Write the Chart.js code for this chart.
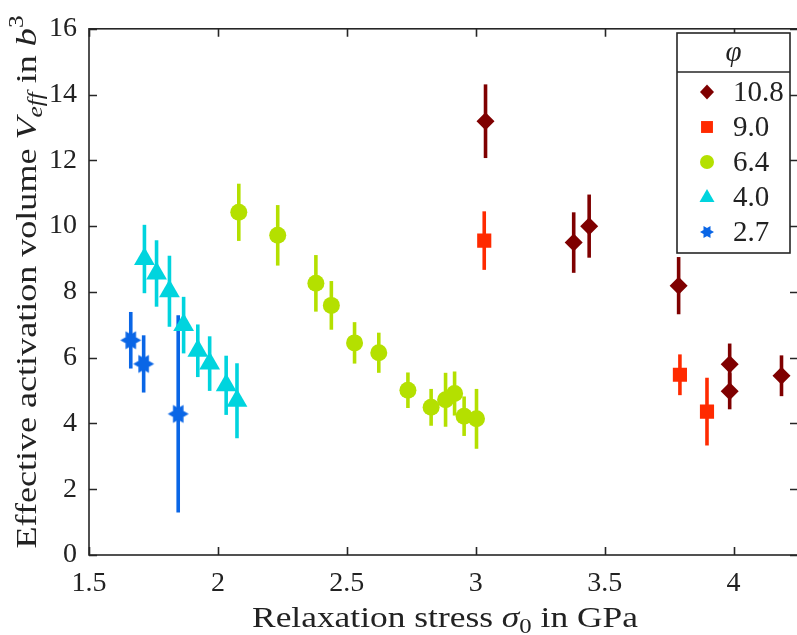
<!DOCTYPE html>
<html>
<head>
<meta charset="utf-8">
<script src="https://cdn.jsdelivr.net/npm/chart.js@4.4.1/dist/chart.umd.min.js"></script>
<style>
  html, body { margin: 0; padding: 0; background: #fff; overflow: hidden; }
  #wrap { width: 810px; height: 635px; }
</style>
</head>
<body>
<div id="wrap"><canvas id="chart" width="810" height="635"></canvas></div>
<script>
// phi values (legend)
const phiLabels = ['10.8', '9.0', '6.4', '4.0', '2.7'];

// phi = 10.8
const stress108 = [3.038, 3.380, 3.440, 3.787, 3.985, 3.985, 4.186];
const veff108   = [13.19, 9.50, 10.00, 8.19, 5.80, 4.98, 5.45];
const err108    = [1.12, 0.92, 0.96, 0.87, 0.63, 0.55, 0.62];

// phi = 9.0
const stress90 = [3.033, 3.792, 3.897];
const veff90   = [9.56, 5.48, 4.36];
const err90    = [0.89, 0.62, 1.03];

// phi = 6.4
const stress64 = [2.081, 2.232, 2.380, 2.440, 2.530, 2.624, 2.737, 2.827, 2.883, 2.918, 2.955, 3.003];
const veff64   = [10.42, 9.72, 8.26, 7.59, 6.45, 6.15, 5.01, 4.49, 4.72, 4.91, 4.22, 4.14];
const err64    = [0.87, 0.92, 0.86, 0.74, 0.63, 0.61, 0.54, 0.56, 0.82, 0.67, 0.60, 0.91];

// phi = 4.0
const stress40 = [1.715, 1.762, 1.812, 1.867, 1.922, 1.968, 2.032, 2.074];
const veff40   = [9.00, 8.56, 8.02, 6.99, 6.21, 5.82, 5.16, 4.69];
const err40    = [1.04, 1.01, 1.08, 0.86, 0.80, 0.83, 0.90, 1.14];

// phi = 2.7
const stress27 = [1.662, 1.712, 1.846];
const veff27   = [6.53, 5.81, 4.29];
const err27    = [0.86, 0.87, 3.00];

const xTicks = [1.5, 2, 2.5, 3, 3.5, 4];
const yTicks = [0, 2, 4, 6, 8, 10, 12, 14, 16];

const SERIF = '"Liberation Serif", "DejaVu Serif", serif';
const AXIS = '#262626';

function hexagramPath(ctx, cx, cy, r) {
  // two triangles, points left and right
  ctx.beginPath();
  for (let t = 0; t < 2; t++) {
    for (let k = 0; k < 3; k++) {
      const a = (t * 60 + k * 120) * Math.PI / 180;
      const px = cx + r * Math.cos(a), py = cy + r * Math.sin(a);
      if (k === 0) ctx.moveTo(px, py); else ctx.lineTo(px, py);
    }
    ctx.closePath();
  }
}

function makeHexagram(r, color) {
  const c = document.createElement('canvas');
  c.width = c.height = Math.ceil(2 * r + 2);
  const g = c.getContext('2d');
  g.fillStyle = color;
  hexagramPath(g, c.width / 2, c.height / 2, r);
  g.fill('nonzero');
  return c;
}

function pts(xs, ys) { return xs.map((x, i) => ({ x: x, y: ys[i] })); }

const colors = ['#7f0000', '#ff2a00', '#b4e000', '#00d4de', '#0a66e6'];

const datasets = [
  { label: phiLabels[0], data: pts(stress108, veff108), errors: err108, pointStyle: 'rectRot', pointRadius: 9, mk: 'diamond' },
  { label: phiLabels[1], data: pts(stress90, veff90), errors: err90, pointStyle: 'rect', pointRadius: 10, mk: 'square' },
  { label: phiLabels[2], data: pts(stress64, veff64), errors: err64, pointStyle: 'circle', pointRadius: 8.5, mk: 'circle' },
  { label: phiLabels[3], data: pts(stress40, veff40), errors: err40, pointStyle: 'triangle', pointRadius: 12, mk: 'triangle' },
  { label: phiLabels[4], data: pts(stress27, veff27), errors: err27, pointStyle: makeHexagram(10.5, colors[4]), pointRadius: 10, mk: 'hexagram' }
].map((d, i) => Object.assign(d, {
  backgroundColor: colors[i],
  borderColor: colors[i],
  pointBorderWidth: 0,
  pointHoverRadius: d.pointRadius,
  showLine: false
}));

// rich text, stretched to the width the reference label takes
function drawRuns(ctx, runs, cx, y, width) {
  let total = 0;
  runs.forEach(r => { ctx.font = r.font; total += ctx.measureText(r.text).width; });
  ctx.save();
  ctx.translate(cx, y);
  ctx.scale(width / total, 1);
  let x = -total / 2;
  ctx.textAlign = 'left';
  ctx.textBaseline = 'alphabetic';
  runs.forEach(r => {
    ctx.font = r.font;
    ctx.fillText(r.text, x, r.dy || 0);
    x += ctx.measureText(r.text).width;
  });
  ctx.restore();
}

const errorBars = {
  id: 'errorBars',
  beforeDatasetDraw(chart, args) {
    const ds = chart.data.datasets[args.index];
    const ctx = chart.ctx, xs = chart.scales.x, ys = chart.scales.y;
    ctx.save();
    ctx.strokeStyle = ds.borderColor;
    ctx.lineWidth = 3.6;
    ds.data.forEach((p, i) => {
      const e = ds.errors[i];
      const px = xs.getPixelForValue(p.x);
      ctx.beginPath();
      ctx.moveTo(px, ys.getPixelForValue(p.y - e));
      ctx.lineTo(px, ys.getPixelForValue(p.y + e));
      ctx.stroke();
    });
    ctx.restore();
  }
};

const frame = {
  id: 'frame',
  beforeDatasetsDraw(chart) {
    const ctx = chart.ctx, a = chart.chartArea, xs = chart.scales.x, ys = chart.scales.y;
    const tl = 8;
    ctx.save();
    ctx.strokeStyle = AXIS;
    ctx.lineWidth = 1.6;
    ctx.strokeRect(a.left, a.top, a.right - a.left, a.bottom - a.top);
    ctx.beginPath();
    xTicks.forEach(v => {
      const px = Math.round(xs.getPixelForValue(v)) + 0.5;
      ctx.moveTo(px, a.bottom); ctx.lineTo(px, a.bottom - tl);
      ctx.moveTo(px, a.top); ctx.lineTo(px, a.top + tl);
    });
    yTicks.forEach(v => {
      const py = Math.round(ys.getPixelForValue(v)) + 0.5;
      ctx.moveTo(a.left, py); ctx.lineTo(a.left + tl, py);
      ctx.moveTo(a.right, py); ctx.lineTo(a.right - tl, py);
    });
    ctx.stroke();
    ctx.restore();
  },
  afterDraw(chart) {
    const ctx = chart.ctx;
    ctx.save();
    ctx.fillStyle = '#222';
    const big = '30px ' + SERIF, bigI = 'italic 30px ' + SERIF;
    const small = '21px ' + SERIF, smallI = 'italic 21px ' + SERIF;
    drawRuns(ctx, [
      { text: 'Relaxation stress ', font: big },
      { text: 'σ', font: bigI },
      { text: '0', font: small, dy: 6 },
      { text: ' in GPa', font: big }
    ], 445, 627, 386);
    ctx.translate(36, 282);
    ctx.rotate(-Math.PI / 2);
    drawRuns(ctx, [
      { text: 'Effective activation volume ', font: big },
      { text: 'V', font: bigI },
      { text: 'eff', font: smallI, dy: 6 },
      { text: ' in ', font: big },
      { text: 'b', font: bigI },
      { text: '3', font: small, dy: -13 }
    ], 0, 0, 533);
    ctx.restore();
  }
};

function drawMarker(ctx, kind, x, y, r, color) {
  ctx.fillStyle = color;
  ctx.beginPath();
  if (kind === 'diamond') {
    ctx.moveTo(x, y - r * 1.08); ctx.lineTo(x + r, y); ctx.lineTo(x, y + r * 1.08); ctx.lineTo(x - r, y); ctx.closePath();
  } else if (kind === 'square') {
    ctx.rect(x - r * 0.85, y - r * 0.85, r * 1.7, r * 1.7);
  } else if (kind === 'circle') {
    ctx.arc(x, y, r, 0, Math.PI * 2);
  } else if (kind === 'triangle') {
    const h = r * 1.15;
    ctx.moveTo(x, y - h); ctx.lineTo(x + h * 0.93, y + h * 0.62); ctx.lineTo(x - h * 0.93, y + h * 0.62); ctx.closePath();
  } else {
    hexagramPath(ctx, x, y, r);
  }
  ctx.fill();
}

const phiLegend = {
  id: 'phiLegend',
  afterDatasetsDraw(chart) {
    const ctx = chart.ctx;
    const L = 677, R = 790, T = 33, H = 72, B = 253;
    ctx.save();
    ctx.fillStyle = '#fff';
    ctx.fillRect(L, T, R - L, B - T);
    ctx.strokeStyle = AXIS;
    ctx.lineWidth = 1.6;
    ctx.strokeRect(L, T, R - L, B - T);
    ctx.beginPath(); ctx.moveTo(L, H); ctx.lineTo(R, H); ctx.stroke();
    ctx.fillStyle = '#222';
    ctx.font = 'italic 29px ' + SERIF;
    ctx.textAlign = 'center';
    ctx.textBaseline = 'middle';
    ctx.fillText('φ', (L + R) / 2, 53);
    const rowY = [92, 127, 162, 197, 232];
    chart.data.datasets.forEach((ds, i) => {
      drawMarker(ctx, ds.mk, 707, rowY[i], 7, ds.backgroundColor);
      ctx.fillStyle = '#222';
      ctx.font = '29px ' + SERIF;
      ctx.textAlign = 'left';
      ctx.textBaseline = 'middle';
      ctx.fillText(ds.label, 733, rowY[i] + 1);
    });
    ctx.restore();
  }
};

new Chart(document.getElementById('chart'), {
  type: 'scatter',
  data: { datasets: datasets },
  plugins: [errorBars, frame, phiLegend],
  options: {
    responsive: false,
    animation: false,
    layout: { padding: { left: 0, top: 20, right: 6, bottom: 0 } },
    plugins: { legend: { display: false }, tooltip: { enabled: false } },
    scales: {
      x: {
        type: 'linear',
        min: 1.5,
        max: 4.25,
        afterFit: s => { s.height = 80; },
        afterBuildTicks: s => { s.ticks = xTicks.map(v => ({ value: v })); },
        grid: { display: false, drawTicks: false },
        border: { display: false },
        ticks: { color: '#222', padding: 12, maxRotation: 0, autoSkip: false, font: { family: SERIF, size: 28 }, callback: v => String(v) }
      },
      y: {
        type: 'linear',
        min: 0,
        max: 16,
        afterFit: s => { s.width = 89; },
        afterBuildTicks: s => { s.ticks = yTicks.map(v => ({ value: v })); },
        grid: { display: false, drawTicks: false },
        border: { display: false },
        ticks: { color: '#222', padding: 12, autoSkip: false, font: { family: SERIF, size: 28 }, callback: v => String(v) }
      }
    }
  }
});
</script>
</body>
</html>
